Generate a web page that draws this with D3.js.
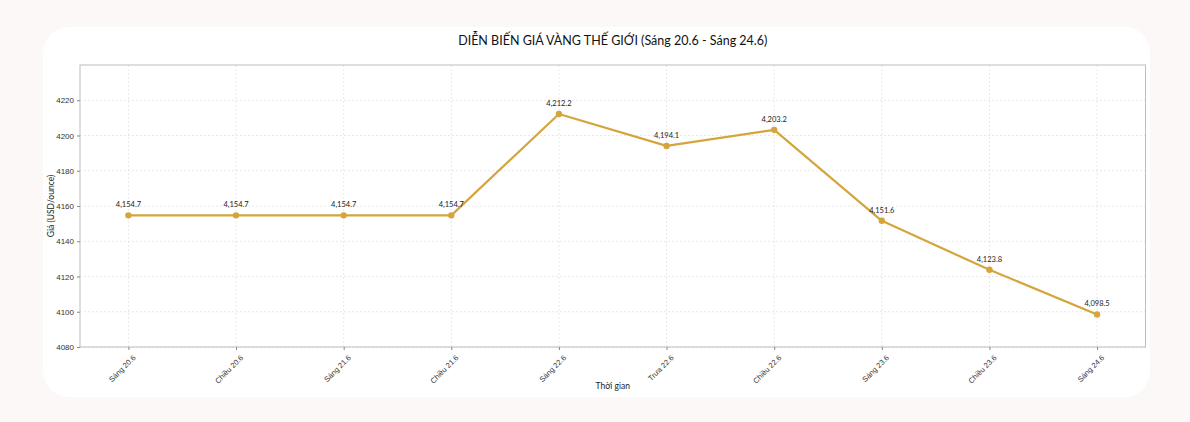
<!DOCTYPE html>
<html><head><meta charset="utf-8">
<script src="https://cdn.jsdelivr.net/npm/d3@7"></script>
<style>
html,body{margin:0;padding:0;background:#fcf8f8;}
svg{display:block;font-family:Lato,"Open Sans",sans-serif;}
</style></head>
<body>
<svg id="c" width="1190" height="422"></svg>
<script>
const categories = ["Sáng 20.6","Chiều 20.6","Sáng 21.6","Chiều 21.6","Sáng 22.6","Trưa 22.6","Chiều 22.6","Sáng 23.6","Chiều 23.6","Sáng 24.6"];
const prices = [4154.7,4154.7,4154.7,4154.7,4212.2,4194.1,4203.2,4151.6,4123.8,4098.5];
const yTicks = [4080,4100,4120,4140,4160,4180,4200,4220];
const title = "DIỄN BIẾN GIÁ VÀNG THẾ GIỚI (Sáng 20.6 - Sáng 24.6)";
const xLabel = "Thời gian";
const yLabel = "Giá (USD/ounce)";

const svg = d3.select("#c");
svg.append("rect").attr("x",43).attr("y",27).attr("width",1107).attr("height",370).attr("rx",26).attr("fill","#ffffff");

const L=80,R=1145.5,T=65,B=347;
const n = categories.length;
const x = d3.scaleLinear().domain([-0.45, n-1+0.45]).range([L,R]);
const y = d3.scaleLinear().domain([4080,4240]).range([B,T]);

const g = svg.append("g");
// grid
g.selectAll(".gy").data(yTicks).join("line")
 .attr("x1",L).attr("x2",R).attr("y1",d=>y(d)).attr("y2",d=>y(d))
 .attr("stroke","#e2e2e2").attr("stroke-width",0.8).attr("stroke-dasharray","2,2");
g.selectAll(".gx").data(categories).join("line")
 .attr("x1",(d,i)=>x(i)).attr("x2",(d,i)=>x(i)).attr("y1",T).attr("y2",B)
 .attr("stroke","#e2e2e2").attr("stroke-width",0.8).attr("stroke-dasharray","2,2");

// frame
g.append("rect").attr("x",L).attr("y",T).attr("width",R-L).attr("height",B-T)
 .attr("fill","none").attr("stroke","#bdbdbd").attr("stroke-width",1);

// y axis
const ya = g.append("g").attr("transform",`translate(${L},0)`)
 .call(d3.axisLeft(y).tickValues(yTicks).tickSize(3).tickPadding(3).tickFormat(d3.format("d")));
ya.select(".domain").remove();
ya.selectAll("line").attr("stroke","#888");
ya.selectAll("text").attr("font-size",8).attr("fill","#333");

// x axis
const xa = g.append("g").attr("transform",`translate(0,${B})`)
 .call(d3.axisBottom(x).tickValues(d3.range(n)).tickSize(3).tickFormat(i=>categories[i]));
xa.select(".domain").remove();
xa.selectAll("line").attr("stroke","#888");
xa.selectAll("text").attr("font-size",7.5).attr("fill","#333")
 .attr("text-anchor","end").attr("dy",0).attr("dx",0)
 .attr("transform","translate(3,7) rotate(-45)");

// line
const line = d3.line().x((d,i)=>x(i)).y(d=>y(d));
g.append("path").datum(prices).attr("d",line).attr("fill","none")
 .attr("stroke","#d4a53c").attr("stroke-width",2.2).attr("stroke-linejoin","round");
g.selectAll(".pt").data(prices).join("circle")
 .attr("cx",(d,i)=>x(i)).attr("cy",d=>y(d)).attr("r",3.2).attr("fill","#d4a53c");
g.selectAll(".lbl").data(prices).join("text")
 .attr("x",(d,i)=>x(i)).attr("y",d=>y(d)-8).attr("text-anchor","middle")
 .attr("font-size",7.5).attr("fill","#222").text(d=>d3.format(",.1f")(d));

// titles
svg.append("text").attr("x",(L+R)/2).attr("y",45).attr("text-anchor","middle")
 .attr("font-size",12.5).attr("fill","#111").text(title);
svg.append("text").attr("x",(L+R)/2).attr("y",389).attr("text-anchor","middle")
 .attr("font-size",8.5).attr("fill","#222").text(xLabel);
svg.append("text").attr("transform",`translate(54,${(T+B)/2}) rotate(-90)`).attr("text-anchor","middle")
 .attr("font-size",8.5).attr("fill","#222").text(yLabel);
</script>
</body></html>
